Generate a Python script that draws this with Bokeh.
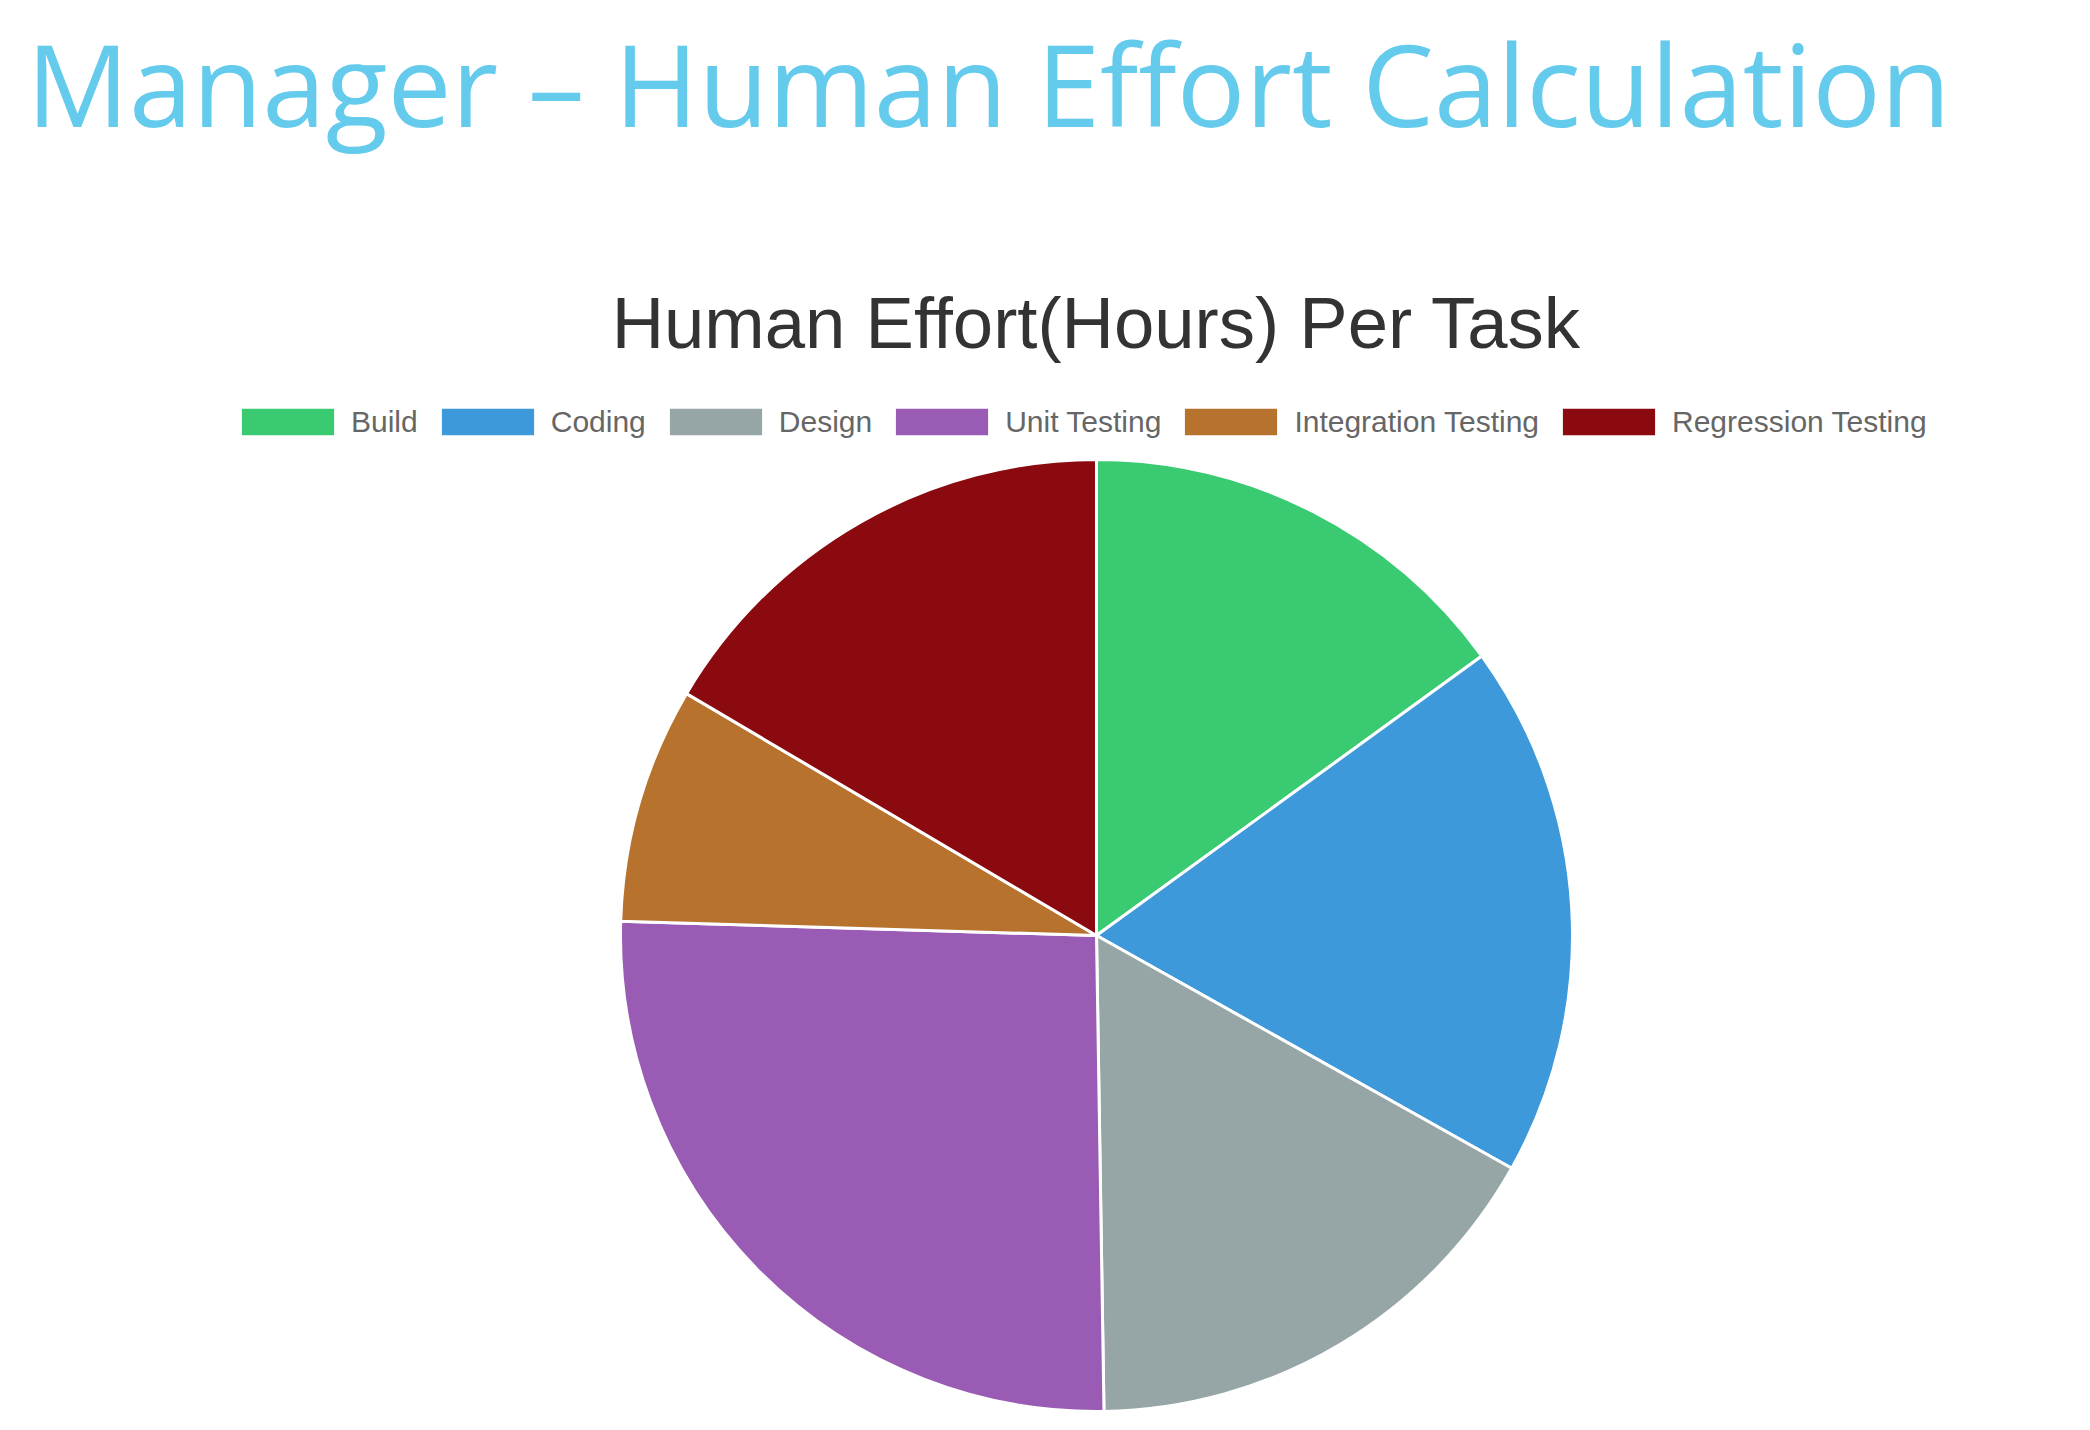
from bokeh.plotting import figure
from bokeh.models import ColumnDataSource, Range1d
from bokeh.core.properties import value
from bokeh.embed import file_html
from bokeh.resources import INLINE
import math

# ---- data ----
tasks = ["Build", "Coding", "Design", "Unit Testing", "Integration Testing", "Regression Testing"]
hours = [15.0, 18.1, 16.6, 25.7, 8.0, 16.5]
colors = ["#3ACB72", "#3D99DA", "#96A6A6", "#9A5BB4", "#B7722E", "#8A0A10"]

page_title = "Manager \u2013 Human Effort Calculation"
chart_title = "Human Effort(Hours) Per Task"

W, H = 2090, 1430
cx, cy, R = 1096, H - 935, 476

total = sum(hours)
starts, ends = [], []
acc = 0.0
for h in hours:
    starts.append(math.pi / 2 - 2 * math.pi * acc / total)
    acc += h
    ends.append(math.pi / 2 - 2 * math.pi * acc / total)

src = ColumnDataSource(dict(task=tasks, hours=hours, color=colors, start=starts, end=ends))

p = figure(width=W, height=H, x_range=Range1d(0, W), y_range=Range1d(0, H),
           output_backend="svg", toolbar_location=None, min_border=0)
p.axis.visible = False
p.grid.visible = False
p.outline_line_color = None
p.background_fill_color = "white"

p.wedge(x=cx, y=cy, radius=R, start_angle="start", end_angle="end", direction="clock",
        fill_color="color", line_color="white", line_width=3, source=src, legend_field="task")

p.text(x=[26], y=[H - 82], text=[page_title], text_font=value("Open Sans"),
       text_font_size="114px", text_color="#65CBEC", text_baseline="alphabetic", text_align="left")
p.text(x=[cx], y=[H - 322], text=[chart_title], text_font=value("Liberation Sans"),
       text_font_size="72.5px", text_color="#333333", text_baseline="middle", text_align="center")

lg = p.legend[0]
lg.orientation = "horizontal"
lg.location = (228, H - 440)
lg.glyph_width = 119
lg.glyph_height = 37
lg.label_standoff = 4
lg.spacing = 10
lg.padding = 0
lg.margin = 0
lg.label_height = 37
lg.label_text_font = "Liberation Sans"
lg.label_text_font_size = "30px"
lg.label_text_color = "#666666"
lg.label_text_baseline = "middle"
lg.border_line_color = None
lg.background_fill_alpha = 0

open("out.html", "w").write(file_html(p, INLINE))
